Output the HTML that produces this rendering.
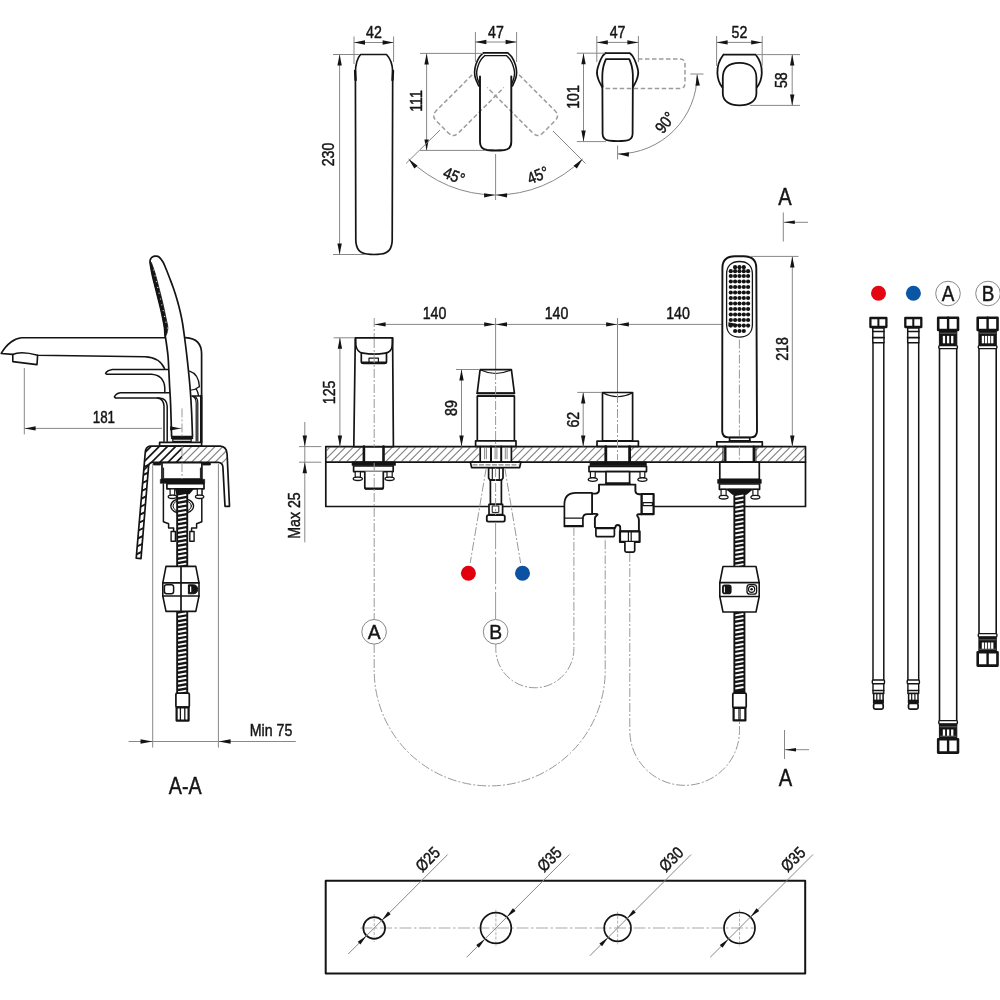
<!DOCTYPE html>
<html><head><meta charset="utf-8"><title>Drawing</title><style>
html,body{margin:0;padding:0;background:#fff;}
svg{display:block;font-family:"Liberation Sans",sans-serif;will-change:transform;}
text{fill:#141414;stroke:#141414;stroke-width:0.45px;}
.k{stroke:#141414;stroke-width:1.7;fill:none;stroke-linejoin:round;stroke-linecap:round;}
.kw{stroke:#141414;stroke-width:1.7;fill:#fff;stroke-linejoin:round;}
.kb{stroke:#141414;stroke-width:1.7;fill:#141414;stroke-linejoin:round;}
.g{stroke:#888;stroke-width:1;fill:none;}
.cl{stroke:#999;stroke-width:1;fill:none;stroke-dasharray:9 2 2 2;}
.hid{stroke:#9c9c9c;stroke-width:1.5;fill:none;stroke-dasharray:4.5 2.5;}
.hg{stroke:#858585;stroke-width:1.2;fill:none;}
</style></head><body>
<svg width="1000" height="1000" viewBox="0 0 1000 1000">
<rect width="1000" height="1000" fill="#fff"/>
<!-- sec_top -->
<path d="M360.5,54.5 L386.5,54.5 C390,58 392.5,64 392.7,72 L392.2,240 Q392,253 381,254 Q374,255 367,254 Q356,253 355.8,240 L355.4,72 C355.6,64 357.5,58 360.5,54.5 Z" class="k" />
<line x1="355.10" y1="71.00" x2="355.60" y2="80.00" class="k" style="stroke-width:2.4"/>
<line x1="393.00" y1="71.00" x2="392.50" y2="80.00" class="k" style="stroke-width:2.4"/>
<line x1="354.00" y1="36.50" x2="354.00" y2="64.00" class="g" />
<line x1="393.60" y1="36.50" x2="393.60" y2="62.00" class="g" />
<line x1="354.00" y1="42.50" x2="393.60" y2="42.50" class="g" />
<polygon points="354.00,42.50 365.00,40.30 365.00,44.70" fill="#141414"/>
<polygon points="393.60,42.50 382.60,44.70 382.60,40.30" fill="#141414"/>
<text transform="translate(374.00,37.50) rotate(0) scale(0.86,1)" font-size="16.5" text-anchor="middle" >42</text>
<line x1="333.00" y1="54.50" x2="360.00" y2="54.50" class="g" />
<line x1="333.00" y1="254.50" x2="366.00" y2="254.50" class="g" />
<line x1="339.60" y1="54.50" x2="339.60" y2="254.50" class="g" />
<polygon points="339.60,54.50 341.80,65.50 337.40,65.50" fill="#141414"/>
<polygon points="339.60,254.50 337.40,243.50 341.80,243.50" fill="#141414"/>
<text transform="translate(334.20,154.50) rotate(-90) scale(0.86,1)" font-size="16.5" text-anchor="middle" >230</text>
<g transform="translate(495.6,73.6) rotate(45)"><path d="M-15.7,17.5 L-15.7,68 Q-15.7,75.4 -8.7,75.4 L8.7,75.4 Q15.7,75.4 15.7,68 L15.7,4" class="hid"/></g>
<g transform="translate(495.6,73.6) rotate(-45)"><path d="M15.7,17.5 L15.7,68 Q15.7,75.4 8.7,75.4 L-8.7,75.4 Q-15.7,75.4 -15.7,68 L-15.7,4" class="hid"/></g>
<path d="M483.40,52.9 L507.8,52.9  C508.47,53.58 510.53,55.02 511.80,57.00 C513.07,58.98 514.60,62.30 515.40,64.80 C516.20,67.30 516.55,69.70 516.60,72.00 C516.65,74.30 516.40,76.27 515.70,78.60 C515.00,80.93 512.95,84.77 512.40,86.00 M483.40,52.90 C482.73,53.58 480.67,55.02 479.40,57.00 C478.13,58.98 476.60,62.30 475.80,64.80 C475.00,67.30 474.65,69.70 474.60,72.00 C474.55,74.30 474.80,76.27 475.50,78.60 C476.20,80.93 478.25,84.77 478.80,86.00" class="k" style="stroke-width:1.6"/>
<path d="M484.80,55.6 L506.4,55.6  C507.00,56.23 508.90,57.77 510.00,59.40 C511.10,61.03 512.25,63.30 513.00,65.40 C513.75,67.50 514.35,69.90 514.50,72.00 C514.65,74.10 514.38,75.93 513.90,78.00 C513.42,80.07 511.98,83.33 511.60,84.40 M484.80,55.60 C484.20,56.23 482.30,57.77 481.20,59.40 C480.10,61.03 478.95,63.30 478.20,65.40 C477.45,67.50 476.85,69.90 476.70,72.00 C476.55,74.10 476.82,75.93 477.30,78.00 C477.78,80.07 479.22,83.33 479.60,84.40" class="k" style="stroke-width:1.4"/>
<path d="M480,76.4 L480,142 Q480,149 487,150 Q495.6,151 504.4,150 Q511.3,149 511.3,142 L511.3,76.4" class="k" style="stroke-width:1.9"/>
<line x1="475.40" y1="32.00" x2="475.40" y2="62.00" class="g" />
<line x1="516.60" y1="32.00" x2="516.60" y2="62.00" class="g" />
<line x1="475.40" y1="42.00" x2="516.60" y2="42.00" class="g" />
<polygon points="475.40,42.00 486.40,39.80 486.40,44.20" fill="#141414"/>
<polygon points="516.60,42.00 505.60,44.20 505.60,39.80" fill="#141414"/>
<text transform="translate(496.00,37.50) rotate(0) scale(0.86,1)" font-size="16.5" text-anchor="middle" >47</text>
<line x1="420.00" y1="53.40" x2="483.00" y2="53.40" class="g" />
<line x1="420.00" y1="150.40" x2="486.00" y2="150.40" class="g" />
<line x1="426.60" y1="53.40" x2="426.60" y2="150.40" class="g" />
<polygon points="426.60,53.40 428.80,64.40 424.40,64.40" fill="#141414"/>
<polygon points="426.60,150.40 424.40,139.40 428.80,139.40" fill="#141414"/>
<text transform="translate(422.30,101.00) rotate(-90) scale(0.86,1)" font-size="16.5" text-anchor="middle" >111</text>
<path d="M408.63,158.97 A123,123 0 0 0 582.57,158.97" class="g" />
<line x1="495.60" y1="154.00" x2="495.60" y2="200.00" class="g" />
<line x1="440.00" y1="130.00" x2="406.00" y2="163.50" class="g" />
<line x1="553.00" y1="131.00" x2="585.50" y2="163.50" class="g" />
<polygon points="408.63,158.97 417.62,165.68 414.35,168.62" fill="#141414"/>
<polygon points="582.57,158.97 576.85,168.62 573.58,165.68" fill="#141414"/>
<polygon points="495.10,195.00 484.18,197.58 484.03,193.19" fill="#141414"/>
<polygon points="496.10,195.00 507.17,193.19 507.02,197.58" fill="#141414"/>
<text transform="translate(452.00,181.00) rotate(22) scale(0.86,1)" font-size="16.5" text-anchor="middle" >45°</text>
<text transform="translate(540.00,180.50) rotate(-22) scale(0.86,1)" font-size="16.5" text-anchor="middle" >45°</text>
<path d="M638,59 L680,59 Q685,59 685,64 L685,83 Q685,88.5 680,88.5 L607,88.5 Q602.5,88.5 602.5,83" class="hid" />
<path d="M605.30,53.2 L629.9,53.2  C630.38,53.73 631.80,54.77 632.80,56.40 C633.80,58.03 635.03,60.70 635.90,63.00 C636.77,65.30 637.65,68.20 638.00,70.20 C638.35,72.20 638.30,73.20 638.00,75.00 C637.70,76.80 637.05,78.97 636.20,81.00 C635.35,83.03 633.45,86.17 632.90,87.20 M605.30,53.20 C604.82,53.73 603.40,54.77 602.40,56.40 C601.40,58.03 600.17,60.70 599.30,63.00 C598.43,65.30 597.55,68.20 597.20,70.20 C596.85,72.20 596.90,73.20 597.20,75.00 C597.50,76.80 598.15,78.97 599.00,81.00 C599.85,83.03 601.75,86.17 602.30,87.20" class="k" style="stroke-width:1.8"/>
<path d="M605.90,59.1 L629.3,59.1  C629.70,60.25 631.12,63.55 631.70,66.00 C632.28,68.45 632.62,69.80 632.80,73.80 C632.98,77.80 632.80,87.30 632.80,90.00 L632.6,134 Q632.4,140 626,140.6 Q617.6,141.6 609.2,140.6 Q602.8,140 602.6,134 L602.40,90.00 C602.40,87.30 602.22,77.80 602.40,73.80 C602.58,69.80 602.92,68.45 603.50,66.00 C604.08,63.55 605.50,60.25 605.90,59.10" class="k" style="stroke-width:1.8"/>
<line x1="596.80" y1="36.00" x2="596.80" y2="62.00" class="g" />
<line x1="638.40" y1="36.00" x2="638.40" y2="62.00" class="g" />
<line x1="596.80" y1="42.40" x2="638.40" y2="42.40" class="g" />
<polygon points="596.80,42.40 607.80,40.20 607.80,44.60" fill="#141414"/>
<polygon points="638.40,42.40 627.40,44.60 627.40,40.20" fill="#141414"/>
<text transform="translate(617.60,37.50) rotate(0) scale(0.86,1)" font-size="16.5" text-anchor="middle" >47</text>
<line x1="576.80" y1="53.20" x2="605.00" y2="53.20" class="g" />
<line x1="576.80" y1="141.60" x2="606.00" y2="141.60" class="g" />
<line x1="583.50" y1="53.20" x2="583.50" y2="141.60" class="g" />
<polygon points="583.50,53.20 585.70,64.20 581.30,64.20" fill="#141414"/>
<polygon points="583.50,141.60 581.30,130.60 585.70,130.60" fill="#141414"/>
<text transform="translate(579.00,97.00) rotate(-90) scale(0.86,1)" font-size="16.5" text-anchor="middle" >101</text>
<path d="M697.10,74.4 A79.5,79.5 0 0 1 617.60,153.90" class="g" />
<line x1="690.40" y1="74.00" x2="703.50" y2="74.00" class="g" />
<line x1="617.60" y1="145.50" x2="617.60" y2="159.50" class="g" />
<polygon points="697.10,74.60 699.87,85.47 695.48,85.70" fill="#141414"/>
<polygon points="617.90,153.90 629.00,152.28 628.77,156.67" fill="#141414"/>
<text transform="translate(669.50,126.00) rotate(-52) scale(0.86,1)" font-size="16.5" text-anchor="middle" >90°</text>
<path d="M723.4,54.7 L755.8,54.7 C759.6,59.5 762,66 761.8,73 C761.6,79 760,83.5 756.8,87.4 M723.4,54.7 C719.6,59.5 717.2,66 717.4,73 C717.6,79 719.2,83.5 722.4,87.4" class="k" style="stroke-width:1.8"/>
<path d="M722.8,78 C722.8,68 729,62.9 739.5,62.9 C750,62.9 756.4,68 756.4,78 L756.4,93.5 C756.4,101 749.5,105.4 739.5,105.4 C729.5,105.4 722.8,101 722.8,93.5 Z" class="k" style="stroke-width:1.8"/>
<line x1="716.60" y1="36.00" x2="716.60" y2="66.00" class="g" />
<line x1="762.20" y1="36.00" x2="762.20" y2="66.00" class="g" />
<line x1="716.60" y1="42.40" x2="762.20" y2="42.40" class="g" />
<polygon points="716.60,42.40 727.60,40.20 727.60,44.60" fill="#141414"/>
<polygon points="762.20,42.40 751.20,44.60 751.20,40.20" fill="#141414"/>
<text transform="translate(739.40,37.50) rotate(0) scale(0.86,1)" font-size="16.5" text-anchor="middle" >52</text>
<line x1="756.00" y1="54.60" x2="800.00" y2="54.60" class="g" />
<line x1="750.00" y1="105.40" x2="800.00" y2="105.40" class="g" />
<line x1="792.20" y1="54.60" x2="792.20" y2="105.40" class="g" />
<polygon points="792.20,54.60 794.40,65.60 790.00,65.60" fill="#141414"/>
<polygon points="792.20,105.40 790.00,94.40 794.40,94.40" fill="#141414"/>
<text transform="translate(786.60,80.20) rotate(-90) scale(0.86,1)" font-size="16.5" text-anchor="middle" >58</text>
<text transform="translate(785.00,205.00) rotate(0) scale(0.84,1)" font-size="24" text-anchor="middle" >A</text>
<line x1="783.30" y1="212.50" x2="783.30" y2="241.50" class="g" />
<line x1="783.30" y1="222.30" x2="808.00" y2="222.30" class="g" />
<polygon points="783.80,222.30 794.80,220.60 794.80,224.00" fill="#141414"/>
<text transform="translate(785.50,785.50) rotate(0) scale(0.84,1)" font-size="24" text-anchor="middle" >A</text>
<line x1="784.50" y1="730.00" x2="784.50" y2="759.00" class="g" />
<line x1="784.50" y1="749.70" x2="809.00" y2="749.70" class="g" />
<polygon points="785.00,749.70 796.00,748.00 796.00,751.40" fill="#141414"/>
<!-- sec_front -->
<path d="M325.8,462.2 L325.8,506.5 L805.5,506.5 L805.5,462.2" class="k" />
<path d="M326.60,450.50L329.70,447.40M326.60,458.30L337.50,447.40M331.30,461.40L345.30,447.40M339.10,461.40L353.10,447.40M346.90,461.40L360.90,447.40M354.70,461.40L362.90,453.20M362.50,461.40L362.90,461.00" class="hg" />
<path d="M384.40,455.10L392.10,447.40M385.90,461.40L399.90,447.40M393.70,461.40L407.70,447.40M401.50,461.40L415.50,447.40M409.30,461.40L423.30,447.40M417.10,461.40L431.10,447.40M424.90,461.40L438.90,447.40M432.70,461.40L446.70,447.40M440.50,461.40L454.50,447.40M448.30,461.40L462.30,447.40M456.10,461.40L470.10,447.40M463.90,461.40L477.90,447.40M471.70,461.40L479.40,453.70" class="hg" />
<path d="M512.20,452.10L516.90,447.40M512.20,459.90L524.70,447.40M518.50,461.40L532.50,447.40M526.30,461.40L540.30,447.40M534.10,461.40L548.10,447.40M541.90,461.40L555.90,447.40M549.70,461.40L563.70,447.40M557.50,461.40L571.50,447.40M565.30,461.40L579.30,447.40M573.10,461.40L587.10,447.40M580.90,461.40L594.90,447.40M588.70,461.40L602.70,447.40M596.50,461.40L604.80,453.10M604.30,461.40L604.80,460.90" class="hg" />
<path d="M630.60,450.70L633.90,447.40M630.60,458.50L641.70,447.40M635.50,461.40L649.50,447.40M643.30,461.40L657.30,447.40M651.10,461.40L665.10,447.40M658.90,461.40L672.90,447.40M666.70,461.40L680.70,447.40M674.50,461.40L688.50,447.40M682.30,461.40L696.30,447.40M690.10,461.40L704.10,447.40M697.90,461.40L711.90,447.40M705.70,461.40L719.70,447.40M713.50,461.40L723.40,451.50M721.30,461.40L723.40,459.30" class="hg" />
<path d="M755.60,450.50L758.70,447.40M755.60,458.30L766.50,447.40M760.30,461.40L774.30,447.40M768.10,461.40L782.10,447.40M775.90,461.40L789.90,447.40M783.70,461.40L797.70,447.40M791.50,461.40L804.70,448.20M799.30,461.40L804.70,456.00" class="hg" />
<path d="M325.8,446.6 L805.5,446.6 L805.5,462.2 L325.8,462.2 Z" class="k" />
<line x1="374.20" y1="318.00" x2="374.20" y2="337.00" class="cl" />
<path d="M355.3,337.8 L392.6,337.8 L393.4,446.6 L353.8,446.6 Z" class="kw" />
<path d="M355.6,338 L355.8,345 C356.5,350 359,352.5 363,353.2 Q374.2,355.2 385.4,353.2 C389.5,352.5 392,350 392.3,345 L392.5,338" class="k" />
<path d="M361.3,353 L361.3,361.5 Q361.3,363.4 363.5,363.4 L384.3,363.4 Q386.5,363.4 386.5,361.5 L386.5,353" class="k" />
<line x1="362.00" y1="362.60" x2="386.00" y2="362.60" class="k" style="stroke-width:2.2"/>
<path d="M369,362 L369,358.2 L378.4,358.2 L378.4,362" class="k" style="stroke-width:1.2"/>
<line x1="374.20" y1="339.00" x2="374.20" y2="446.60" class="cl" />
<line x1="363.90" y1="446.60" x2="363.90" y2="462.20" class="k" style="stroke-width:2.6"/>
<line x1="383.50" y1="446.60" x2="383.50" y2="462.20" class="k" style="stroke-width:2.6"/>
<rect x="352.00" y="461.80" width="43.50" height="3.60" class="kb" style="stroke-width:0.6"/>
<rect x="353.60" y="466.00" width="39.60" height="5.60" class="kw" />
<rect x="355.20" y="471.60" width="5.20" height="5.80" class="kw" style="stroke-width:1.2"/>
<ellipse cx="357.8" cy="478.8" rx="4.6" ry="1.7" class="kw" style="stroke-width:1.3"/>
<rect x="387.00" y="471.60" width="5.20" height="5.80" class="kw" style="stroke-width:1.2"/>
<ellipse cx="389.6" cy="478.8" rx="4.6" ry="1.7" class="kw" style="stroke-width:1.3"/>
<path d="M364.8,471.6 L364.8,487 Q364.8,489 366.8,489 L381.3,489 Q383.3,489 383.3,487 L383.3,471.6" class="kw" />
<line x1="365.50" y1="488.60" x2="382.60" y2="488.60" class="k" style="stroke-width:2"/>
<line x1="374.20" y1="463.00" x2="374.20" y2="619.50" class="cl" />
<line x1="495.60" y1="318.00" x2="495.60" y2="369.00" class="g" />
<path d="M480.1,369.6 L511.4,369.6 L514.4,393.2 L477.2,393.2 Z" class="kw" style="stroke-width:1.7"/>
<path d="M480.6,370 Q495.6,377 511,370" class="k" style="stroke-width:1.2"/>
<line x1="477.20" y1="393.40" x2="514.40" y2="393.40" class="k" style="stroke-width:1.6"/>
<rect x="477.30" y="396.20" width="37.10" height="44.60" class="kw" style="stroke-width:1.7"/>
<line x1="477.60" y1="395.40" x2="514.20" y2="395.40" class="k" style="stroke-width:0.9"/>
<rect x="475.60" y="440.90" width="40.40" height="5.40" class="kw" />
<line x1="495.60" y1="371.00" x2="495.60" y2="446.60" class="cl" />
<line x1="480.20" y1="446.60" x2="480.20" y2="462.20" class="k" />
<line x1="511.40" y1="446.60" x2="511.40" y2="462.20" class="k" />
<line x1="491.00" y1="446.60" x2="491.00" y2="462.20" class="k" style="stroke-width:2"/>
<line x1="501.20" y1="446.60" x2="501.20" y2="462.20" class="k" style="stroke-width:2"/>
<line x1="484.60" y1="448.10" x2="484.60" y2="459.20" class="g" />
<line x1="486.40" y1="448.10" x2="486.40" y2="459.20" class="g" />
<line x1="495.10" y1="448.10" x2="495.10" y2="459.20" class="g" />
<line x1="496.90" y1="448.10" x2="496.90" y2="459.20" class="g" />
<line x1="505.30" y1="448.10" x2="505.30" y2="459.20" class="g" />
<line x1="507.10" y1="448.10" x2="507.10" y2="459.20" class="g" />
<path d="M470.4,462.2 L520.8,462.2 L519.6,467.6 L471.6,467.6 Z" class="kw" />
<line x1="472.50" y1="464.80" x2="518.50" y2="464.80" class="g" style="stroke-dasharray:5 1.5;stroke-width:1.2"/>
<path d="M488.6,467.8 L503,467.8 L503,478 L501.4,480.2 L490.2,480.2 L488.6,478 Z" class="kw" />
<line x1="492.30" y1="468.00" x2="492.30" y2="479.00" class="k" style="stroke-width:1.1"/>
<line x1="499.30" y1="468.00" x2="499.30" y2="479.00" class="k" style="stroke-width:1.1"/>
<rect x="490.40" y="480.20" width="11.00" height="24.20" class="kw" />
<rect x="489.00" y="504.40" width="13.60" height="10.20" class="kw" style="stroke-width:1.7"/>
<rect x="492.60" y="506.00" width="6.20" height="6.40" class="k" style="stroke-width:1"/>
<rect x="486.8" y="515.2" width="18" height="6.4" rx="1.6" class="kw" style="stroke-width:1.8"/>
<line x1="495.60" y1="468.00" x2="495.60" y2="515.00" class="cl" />
<line x1="495.60" y1="522.00" x2="495.60" y2="619.50" class="cl" style="stroke-dasharray:27 2.5 3 2.5"/>
<line x1="486.20" y1="468.00" x2="470.20" y2="563.00" class="cl" />
<line x1="504.80" y1="468.00" x2="520.60" y2="563.00" class="cl" />
<circle cx="468.4" cy="573.2" r="7.5" fill="#e2000f"/>
<circle cx="522.5" cy="573.2" r="7.5" fill="#0b52a3"/>
<line x1="617.50" y1="318.00" x2="617.50" y2="392.00" class="g" />
<rect x="602.50" y="392.50" width="30.10" height="48.30" class="kw" style="stroke-width:1.7"/>
<path d="M603,393 Q617.5,400.5 632.2,393" class="k" style="stroke-width:1.2"/>
<rect x="597.00" y="441.20" width="41.40" height="5.10" class="kw" />
<line x1="617.50" y1="394.00" x2="617.50" y2="460.20" class="cl" />
<line x1="605.80" y1="446.60" x2="605.80" y2="462.20" class="k" style="stroke-width:2.8"/>
<line x1="629.60" y1="446.60" x2="629.60" y2="462.20" class="k" style="stroke-width:2.8"/>
<rect x="590.00" y="461.80" width="56.40" height="4.00" class="kb" style="stroke-width:0.6"/>
<rect x="589.00" y="466.40" width="57.50" height="5.20" class="kw" />
<rect x="590.40" y="471.60" width="4.80" height="6.00" class="kw" style="stroke-width:1.2"/>
<ellipse cx="592.8" cy="479.6" rx="4.6" ry="1.8" class="kw" style="stroke-width:1.3"/>
<rect x="640.00" y="471.60" width="4.80" height="6.00" class="kw" style="stroke-width:1.2"/>
<ellipse cx="642.4" cy="479.6" rx="4.6" ry="1.8" class="kw" style="stroke-width:1.3"/>
<rect x="606.00" y="471.60" width="23.60" height="11.80" class="kw" />
<line x1="606.00" y1="483.60" x2="629.60" y2="483.60" class="k" style="stroke-width:2"/>
<path d="M599,484.6 L635.4,484.6 L635.4,491 Q635.6,494 639,494.2 L641.7,494.2 L641.7,514.2 L639,514.2 Q636.4,514.4 637.6,516.4 Q638.9,517.6 638.9,520 L638.9,531.4 L620.2,531.4 L620.2,527.6 Q620.2,525 617.8,525 Q615.4,525 615.2,527.9 L595.9,527.9 L594.9,527 L594.9,518.5 Q594.9,516.6 596.6,515.6 Q598.8,514 596,513.9 L592,513.9 L592,493.6 L595.4,493.6 Q598.8,493.4 599,490.5 Z" class="kw" style="stroke-width:1.9"/>
<rect x="641.70" y="494.00" width="11.90" height="20.20" class="kw" style="stroke-width:2.2"/>
<rect x="643.00" y="502.60" width="9.40" height="3.00" class="k" style="stroke-width:1.2"/>
<rect x="620.00" y="531.40" width="19.60" height="10.50" class="kw" style="stroke-width:2.2"/>
<line x1="628.40" y1="532.00" x2="628.40" y2="541.50" class="k" style="stroke-width:1.2"/>
<line x1="631.20" y1="532.00" x2="631.20" y2="541.50" class="k" style="stroke-width:1.2"/>
<path d="M624.9,541.9 L624.9,550.6 Q624.9,552.1 626.4,552.1 L633.2,552.1 Q634.7,552.1 634.7,550.6 L634.7,541.9" class="kw" style="stroke-width:1.7"/>
<path d="M595.9,527.9 L595.9,535 Q595.9,536.7 597.6,536.7 L612.7,536.7 Q614.4,536.7 614.4,535 L614.4,527.9" class="kw" style="stroke-width:1.7"/>
<line x1="596.50" y1="528.60" x2="614.00" y2="528.60" class="k" style="stroke-width:1.2"/>
<path d="M592,492.9 L576,492.9 Q564.4,492.9 564.4,504.5 L564.4,526.5 L582.9,526.5 L582.9,518.6 Q582.9,514.2 587.4,514.2 L592,514.2 Z" class="kw" style="stroke-width:1.7"/>
<line x1="564.40" y1="518.10" x2="582.90" y2="518.10" class="k" style="stroke-width:1.3"/>
<line x1="565.00" y1="526.00" x2="582.40" y2="526.00" class="k" style="stroke-width:2.2"/>
<circle cx="374.1" cy="631.8" r="12.3" class="g" style="fill:#fff"/>
<text transform="translate(374.10,639.20) rotate(0) scale(0.92,1)" font-size="21" text-anchor="middle" >A</text>
<path d="M374.2,644 L374.2,670.4 A115.5,115.5 0 0 0 605.2,670.4 L605.2,537.5" class="cl" />
<circle cx="495.6" cy="631.8" r="12.3" class="g" style="fill:#fff"/>
<text transform="translate(495.60,639.20) rotate(0) scale(0.92,1)" font-size="21" text-anchor="middle" >B</text>
<path d="M495.8,644 L495.8,648.7 A38.9,38.9 0 0 0 573.9,648.7 L573.9,527.5" class="cl" />
<path d="M629.8,553 L629.8,730.5 A54.85,54.85 0 0 0 739.5,730.5 L739.5,721.5" class="cl" />
<line x1="374.20" y1="324.40" x2="722.40" y2="324.40" class="g" />
<polygon points="374.60,324.40 385.60,322.20 385.60,326.60" fill="#141414"/>
<polygon points="495.20,324.40 484.20,326.60 484.20,322.20" fill="#141414"/>
<polygon points="496.00,324.40 507.00,322.20 507.00,326.60" fill="#141414"/>
<polygon points="617.10,324.40 606.10,326.60 606.10,322.20" fill="#141414"/>
<polygon points="617.90,324.40 628.90,322.20 628.90,326.60" fill="#141414"/>
<text transform="translate(434.50,318.80) rotate(0) scale(0.86,1)" font-size="16.5" text-anchor="middle" >140</text>
<text transform="translate(556.50,318.80) rotate(0) scale(0.86,1)" font-size="16.5" text-anchor="middle" >140</text>
<text transform="translate(678.00,318.80) rotate(0) scale(0.86,1)" font-size="16.5" text-anchor="middle" >140</text>
<path d="M722.4,268 C722.4,260 727,256.3 735,256.3 L743.6,256.3 C751.6,256.3 756.3,260 756.3,268 L757,431 Q757,437.4 750.6,437.4 L728.6,437.4 Q722.2,437.4 722.2,431 Z" class="kw" style="stroke-width:1.9"/>
<path d="M726.6,274 C726.6,266 731.5,261.5 739.5,261.5 C747.5,261.5 752.4,266 752.4,274 L752.4,324.6 C752.4,332.6 747.5,337.2 739.5,337.2 C731.5,337.2 726.6,332.6 726.6,324.6 Z" class="k" style="stroke-width:1.3"/>
<polygon points="739.40,324.40 728.40,326.60 728.40,322.20" fill="#141414"/>
<circle cx="730.8" cy="271.2" r="2.1" fill="#141414"/>
<circle cx="735.1" cy="271.2" r="2.1" fill="#141414"/>
<circle cx="739.45" cy="271.2" r="2.1" fill="#141414"/>
<circle cx="743.8" cy="271.2" r="2.1" fill="#141414"/>
<circle cx="748.1" cy="271.2" r="2.1" fill="#141414"/>
<circle cx="730.8" cy="276" r="2.1" fill="#141414"/>
<circle cx="735.1" cy="276" r="2.1" fill="#141414"/>
<circle cx="739.45" cy="276" r="2.1" fill="#141414"/>
<circle cx="743.8" cy="276" r="2.1" fill="#141414"/>
<circle cx="748.1" cy="276" r="2.1" fill="#141414"/>
<circle cx="730.8" cy="281.5" r="2.1" fill="#141414"/>
<circle cx="735.1" cy="281.5" r="2.1" fill="#141414"/>
<circle cx="739.45" cy="281.5" r="2.1" fill="#141414"/>
<circle cx="743.8" cy="281.5" r="2.1" fill="#141414"/>
<circle cx="748.1" cy="281.5" r="2.1" fill="#141414"/>
<circle cx="730.8" cy="287" r="2.1" fill="#141414"/>
<circle cx="735.1" cy="287" r="2.1" fill="#141414"/>
<circle cx="739.45" cy="287" r="2.1" fill="#141414"/>
<circle cx="743.8" cy="287" r="2.1" fill="#141414"/>
<circle cx="748.1" cy="287" r="2.1" fill="#141414"/>
<circle cx="730.8" cy="292.5" r="2.1" fill="#141414"/>
<circle cx="735.1" cy="292.5" r="2.1" fill="#141414"/>
<circle cx="739.45" cy="292.5" r="2.1" fill="#141414"/>
<circle cx="743.8" cy="292.5" r="2.1" fill="#141414"/>
<circle cx="748.1" cy="292.5" r="2.1" fill="#141414"/>
<circle cx="730.8" cy="298" r="2.1" fill="#141414"/>
<circle cx="735.1" cy="298" r="2.1" fill="#141414"/>
<circle cx="739.45" cy="298" r="2.1" fill="#141414"/>
<circle cx="743.8" cy="298" r="2.1" fill="#141414"/>
<circle cx="748.1" cy="298" r="2.1" fill="#141414"/>
<circle cx="730.8" cy="303.5" r="2.1" fill="#141414"/>
<circle cx="735.1" cy="303.5" r="2.1" fill="#141414"/>
<circle cx="739.45" cy="303.5" r="2.1" fill="#141414"/>
<circle cx="743.8" cy="303.5" r="2.1" fill="#141414"/>
<circle cx="748.1" cy="303.5" r="2.1" fill="#141414"/>
<circle cx="730.8" cy="309" r="2.1" fill="#141414"/>
<circle cx="735.1" cy="309" r="2.1" fill="#141414"/>
<circle cx="739.45" cy="309" r="2.1" fill="#141414"/>
<circle cx="743.8" cy="309" r="2.1" fill="#141414"/>
<circle cx="748.1" cy="309" r="2.1" fill="#141414"/>
<circle cx="730.8" cy="314.5" r="2.1" fill="#141414"/>
<circle cx="735.1" cy="314.5" r="2.1" fill="#141414"/>
<circle cx="739.45" cy="314.5" r="2.1" fill="#141414"/>
<circle cx="743.8" cy="314.5" r="2.1" fill="#141414"/>
<circle cx="748.1" cy="314.5" r="2.1" fill="#141414"/>
<circle cx="730.8" cy="320" r="2.1" fill="#141414"/>
<circle cx="735.1" cy="320" r="2.1" fill="#141414"/>
<circle cx="739.45" cy="320" r="2.1" fill="#141414"/>
<circle cx="743.8" cy="320" r="2.1" fill="#141414"/>
<circle cx="748.1" cy="320" r="2.1" fill="#141414"/>
<circle cx="730.8" cy="325.6" r="2.1" fill="#141414"/>
<circle cx="735.1" cy="325.6" r="2.1" fill="#141414"/>
<circle cx="739.45" cy="325.6" r="2.1" fill="#141414"/>
<circle cx="743.8" cy="325.6" r="2.1" fill="#141414"/>
<circle cx="748.1" cy="325.6" r="2.1" fill="#141414"/>
<circle cx="735.1" cy="267.2" r="2.1" fill="#141414"/>
<circle cx="735.1" cy="331" r="2.1" fill="#141414"/>
<circle cx="739.45" cy="267.2" r="2.1" fill="#141414"/>
<circle cx="739.45" cy="331" r="2.1" fill="#141414"/>
<circle cx="743.8" cy="267.2" r="2.1" fill="#141414"/>
<circle cx="743.8" cy="331" r="2.1" fill="#141414"/>
<line x1="739.40" y1="339.60" x2="739.40" y2="436.00" class="cl" />
<rect x="729.60" y="437.60" width="20.20" height="3.80" class="kw" />
<line x1="729.60" y1="441.00" x2="749.80" y2="441.00" class="k" style="stroke-width:2"/>
<rect x="716.80" y="441.80" width="45.50" height="4.60" class="kw" />
<line x1="739.40" y1="446.60" x2="739.40" y2="466.00" class="cl" />
<line x1="725.30" y1="446.60" x2="725.30" y2="462.20" class="k" style="stroke-width:2.4"/>
<line x1="753.80" y1="446.60" x2="753.80" y2="462.20" class="k" style="stroke-width:2.4"/>
<line x1="723.00" y1="446.60" x2="723.00" y2="462.20" class="k" style="stroke-width:1"/>
<line x1="755.90" y1="446.60" x2="755.90" y2="462.20" class="k" style="stroke-width:1"/>
<rect x="719.80" y="462.20" width="39.50" height="17.20" class="kw" />
<rect x="717.60" y="479.40" width="43.70" height="4.00" class="kb" style="stroke-width:0.6"/>
<rect x="719.40" y="484.00" width="40.20" height="5.30" class="kw" />
<rect x="721.10" y="489.30" width="5.00" height="6.30" class="kw" style="stroke-width:1.2"/>
<ellipse cx="723.6" cy="497.2" rx="4.5" ry="1.8" class="kw" style="stroke-width:1.3"/>
<rect x="752.90" y="489.30" width="5.00" height="6.30" class="kw" style="stroke-width:1.2"/>
<ellipse cx="755.4" cy="497.2" rx="4.5" ry="1.8" class="kw" style="stroke-width:1.3"/>
<path d="M727.8,489.5 L751.3,489.5 L746,494 L733,494 Z" class="kb" />
<rect x="733.40" y="493.50" width="12.0" height="73.00" fill="#141414"/>
<path d="M735.30,496.85L743.50,495.35M735.30,501.15L743.50,499.65M735.30,505.45L743.50,503.95M735.30,509.75L743.50,508.25M735.30,514.05L743.50,512.55M735.30,518.35L743.50,516.85M735.30,522.65L743.50,521.15M735.30,526.95L743.50,525.45M735.30,531.25L743.50,529.75M735.30,535.55L743.50,534.05M735.30,539.85L743.50,538.35M735.30,544.15L743.50,542.65M735.30,548.45L743.50,546.95M735.30,552.75L743.50,551.25M735.30,557.05L743.50,555.55M735.30,561.35L743.50,559.85M735.30,565.65L743.50,564.15" stroke="#fff" stroke-width="1.9" fill="none"/>
<rect x="733.40" y="612.00" width="12.0" height="81.00" fill="#141414"/>
<path d="M735.30,615.35L743.50,613.85M735.30,619.65L743.50,618.15M735.30,623.95L743.50,622.45M735.30,628.25L743.50,626.75M735.30,632.55L743.50,631.05M735.30,636.85L743.50,635.35M735.30,641.15L743.50,639.65M735.30,645.45L743.50,643.95M735.30,649.75L743.50,648.25M735.30,654.05L743.50,652.55M735.30,658.35L743.50,656.85M735.30,662.65L743.50,661.15M735.30,666.95L743.50,665.45M735.30,671.25L743.50,669.75M735.30,675.55L743.50,674.05M735.30,679.85L743.50,678.35M735.30,684.15L743.50,682.65M735.30,688.45L743.50,686.95" stroke="#fff" stroke-width="1.9" fill="none"/>
<path d="M723.0,566.5 L756.0,566.5 L759.2,582.6 L759.2,596.5 L756.0,612 L723.0,612 L719.8,596.5 L719.8,582.6 Z" class="kw" style="stroke-width:1.6"/>
<line x1="719.80" y1="582.60" x2="759.20" y2="582.60" class="k" />
<line x1="719.80" y1="596.50" x2="759.20" y2="596.50" class="k" />
<rect x="722" y="584.6" width="9.6" height="9.6" rx="2.8" fill="#141414"/>
<line x1="724.40" y1="587.00" x2="724.40" y2="592.00" class="k" style="stroke:#fff;stroke-width:1"/>
<rect x="747" y="584.6" width="9.6" height="9.6" rx="2.8" class="kw" style="stroke-width:1.3"/>
<circle cx="751.6" cy="589.2" r="3.1" class="kw" style="stroke-width:1.2"/>
<circle cx="751.6" cy="589.2" r="1.3" fill="#141414"/>
<rect x="732.8" y="693.2" width="13.4" height="14.4" rx="1.2" class="kw" style="stroke-width:1.7"/>
<rect x="733.60" y="707.80" width="11.80" height="12.60" class="kw" style="stroke-width:2.2"/>
<line x1="738.90" y1="708.00" x2="738.90" y2="720.00" class="k" style="stroke-width:1"/>
<line x1="740.10" y1="708.00" x2="740.10" y2="720.00" class="k" style="stroke-width:1"/>
<line x1="333.60" y1="337.80" x2="355.00" y2="337.80" class="g" />
<line x1="339.90" y1="337.80" x2="339.90" y2="446.60" class="g" />
<polygon points="339.90,337.80 342.10,348.80 337.70,348.80" fill="#141414"/>
<polygon points="339.90,446.60 337.70,435.60 342.10,435.60" fill="#141414"/>
<text transform="translate(335.30,392.40) rotate(-90) scale(0.86,1)" font-size="16.5" text-anchor="middle" >125</text>
<line x1="456.00" y1="369.50" x2="480.00" y2="369.50" class="g" />
<line x1="461.50" y1="369.50" x2="461.50" y2="446.60" class="g" />
<polygon points="461.50,369.50 463.70,380.50 459.30,380.50" fill="#141414"/>
<polygon points="461.50,446.60 459.30,435.60 463.70,435.60" fill="#141414"/>
<text transform="translate(457.00,408.00) rotate(-90) scale(0.86,1)" font-size="16.5" text-anchor="middle" >89</text>
<line x1="577.30" y1="392.40" x2="602.00" y2="392.40" class="g" />
<line x1="583.20" y1="392.40" x2="583.20" y2="446.60" class="g" />
<polygon points="583.20,392.40 585.40,403.40 581.00,403.40" fill="#141414"/>
<polygon points="583.20,446.60 581.00,435.60 585.40,435.60" fill="#141414"/>
<text transform="translate(578.80,419.70) rotate(-90) scale(0.86,1)" font-size="16.5" text-anchor="middle" >62</text>
<line x1="749.60" y1="256.40" x2="798.50" y2="256.40" class="g" />
<line x1="792.30" y1="256.40" x2="792.30" y2="446.60" class="g" />
<polygon points="792.30,256.40 794.50,267.40 790.10,267.40" fill="#141414"/>
<polygon points="792.30,446.60 790.10,435.60 794.50,435.60" fill="#141414"/>
<text transform="translate(788.00,349.00) rotate(-90) scale(0.86,1)" font-size="16.5" text-anchor="middle" >218</text>
<line x1="299.00" y1="446.60" x2="321.30" y2="446.60" class="g" />
<line x1="299.00" y1="462.20" x2="321.30" y2="462.20" class="g" />
<line x1="304.80" y1="422.00" x2="304.80" y2="542.30" class="g" />
<polygon points="304.80,446.60 302.60,435.60 307.00,435.60" fill="#141414"/>
<polygon points="304.80,462.20 307.00,473.20 302.60,473.20" fill="#141414"/>
<text transform="translate(299.80,515.50) rotate(-90) scale(0.86,1)" font-size="16.5" text-anchor="middle" >Max 25</text>
<!-- sec_side -->
<line x1="152.70" y1="464.00" x2="152.70" y2="747.60" class="g" />
<line x1="218.40" y1="464.00" x2="218.40" y2="747.60" class="g" />
<path d="M185.6,337.6 Q201.6,338.5 201.6,354 L201.6,442" class="k" style="stroke-width:1.7"/>
<line x1="201.20" y1="396.00" x2="201.20" y2="442.00" class="k" style="stroke-width:2.4"/>
<path d="M189.6,371.2 Q198.6,374 199.4,386.6" class="k" style="stroke-width:1.3"/>
<path d="M190.6,390 Q195,390.2 199.2,386.8" class="k" style="stroke-width:1.2"/>
<path d="M196.3,389.2 Q198,392 198.7,396 M191.8,396 L200.2,396" class="k" style="stroke-width:1.3"/>
<path d="M192.6,396.4 Q196,397.4 196.2,403 L196.2,441" class="k" style="stroke-width:1.2"/>
<path d="M194.6,396.6 Q197.8,398 197.8,403 L197.8,441" class="k" style="stroke-width:1.2"/>
<path d="M165.4,337.8 L21.5,337.8 C15,338.2 7,343.4 1.2,353.5 L12.4,354.4 C18,352 24,351.4 37.6,355.2 L144.8,356.8 Q160,357.5 164.6,368.8" class="k" style="stroke-width:1.6"/>
<path d="M12.8,354.6 L12.8,361.6 L37,364.6 L37.6,355.4" class="k" style="stroke-width:1.6"/>
<path d="M168.8,369.5 L112.4,369.5 Q107,370.4 105.6,373.4 L106.6,374.3 L151.2,374.3 Q164,375 164.8,388 L164.8,392.6" class="k" style="stroke-width:1.5"/>
<path d="M169.6,392.8 L120.4,392.8 Q115.8,393.6 114.4,396.9 L115.4,397.9 L159.5,397.9 Q166.8,398.4 167.2,406 L167.2,441.2" class="k" style="stroke-width:1.5"/>
<path d="M157.5,398 Q163.6,399 164,406 L164,441.2" class="k" style="stroke-width:1.5"/>
<path d="M155.50,256.00 C156.08,256.17 157.75,256.00 159.00,257.00 C160.25,258.00 161.75,259.83 163.00,262.00 C164.25,264.17 165.33,267.17 166.50,270.00 C167.67,272.83 168.92,276.17 170.00,279.00 C171.08,281.83 172.08,284.42 173.00,287.00 C173.92,289.58 174.67,291.83 175.50,294.50 C176.33,297.17 177.17,299.92 178.00,303.00 C178.83,306.08 179.75,309.67 180.50,313.00 C181.25,316.33 181.83,319.00 182.50,323.00 C183.17,327.00 183.85,332.17 184.50,337.00 C185.15,341.83 185.68,345.83 186.40,352.00 C187.12,358.17 188.13,367.33 188.80,374.00 C189.47,380.67 189.93,385.67 190.40,392.00 C190.87,398.33 191.25,404.57 191.60,412.00 C191.95,419.43 192.35,432.50 192.50,436.60 L171.60,436.60 C171.43,431.17 170.93,412.43 170.60,404.00 C170.27,395.57 169.88,391.33 169.60,386.00 C169.32,380.67 169.17,377.00 168.90,372.00 C168.63,367.00 168.55,361.67 168.00,356.00 C167.45,350.33 166.10,341.33 165.60,338.00 C165.10,334.67 165.18,337.67 165.00,336.00 C164.82,334.33 164.92,331.17 164.50,328.00 C164.08,324.83 163.25,320.67 162.50,317.00 C161.75,313.33 160.83,309.50 160.00,306.00 C159.17,302.50 158.33,299.33 157.50,296.00 C156.67,292.67 155.83,289.33 155.00,286.00 C154.17,282.67 153.23,279.33 152.50,276.00 C151.77,272.67 151.02,268.50 150.60,266.00 C150.18,263.50 149.93,262.27 150.00,261.00 C150.07,259.73 150.52,259.12 151.00,258.40 C151.48,257.68 152.15,257.10 152.90,256.70 C153.65,256.30 155.07,256.12 155.50,256.00 Z" class="kw" style="stroke-width:1.7"/>
<path d="M150.20,261.50 C150.28,262.25 150.30,263.58 150.70,266.00 C151.10,268.42 151.87,272.67 152.60,276.00 C153.33,279.33 154.27,282.67 155.10,286.00 C155.93,289.33 156.77,292.67 157.60,296.00 C158.43,299.33 159.27,302.50 160.10,306.00 C160.93,309.50 161.85,313.33 162.60,317.00 C163.35,320.67 164.17,324.73 164.60,328.00 C165.03,331.27 165.10,335.17 165.20,336.60 L165.60,336.40 C165.83,335.83 166.63,334.57 167.00,333.00 C167.37,331.43 167.97,329.50 167.80,327.00 C167.63,324.50 166.80,321.83 166.00,318.00 C165.20,314.17 164.17,309.00 163.00,304.00 C161.83,299.00 160.33,293.17 159.00,288.00 C157.67,282.83 156.25,277.17 155.00,273.00 C153.75,268.83 152.30,264.92 151.50,263.00 C150.70,261.08 150.42,261.75 150.20,261.50 Z" class="kb" style="stroke-width:0.8"/>
<circle cx="153.67" cy="270.00" r="0.6" fill="#e8e8e8"/>
<circle cx="155.03" cy="275.80" r="0.6" fill="#e8e8e8"/>
<circle cx="156.40" cy="281.60" r="0.6" fill="#e8e8e8"/>
<circle cx="157.76" cy="287.40" r="0.6" fill="#e8e8e8"/>
<circle cx="159.12" cy="293.20" r="0.6" fill="#e8e8e8"/>
<circle cx="160.48" cy="299.00" r="0.6" fill="#e8e8e8"/>
<circle cx="161.85" cy="304.80" r="0.6" fill="#e8e8e8"/>
<circle cx="163.21" cy="310.60" r="0.6" fill="#e8e8e8"/>
<circle cx="164.57" cy="316.40" r="0.6" fill="#e8e8e8"/>
<circle cx="165.94" cy="322.20" r="0.6" fill="#e8e8e8"/>
<circle cx="167.30" cy="328.00" r="0.6" fill="#e8e8e8"/>
<line x1="182.00" y1="408.40" x2="182.00" y2="446.00" class="cl" />
<line x1="172.00" y1="438.20" x2="192.20" y2="438.20" class="k" style="stroke-width:2.2"/>
<rect x="172.80" y="439.20" width="18.40" height="2.20" class="kw" style="stroke-width:1.2"/>
<rect x="159.60" y="442.30" width="42.00" height="3.70" class="kw" />
<line x1="24.30" y1="368.00" x2="24.30" y2="434.40" class="g" />
<line x1="24.30" y1="428.40" x2="162.00" y2="428.40" class="g" />
<line x1="170.00" y1="428.40" x2="181.50" y2="428.40" class="g" />
<polygon points="24.60,428.40 35.60,426.20 35.60,430.60" fill="#141414"/>
<polygon points="180.60,428.40 170.10,430.60 170.10,426.20" fill="#141414"/>
<text transform="translate(103.90,423.30) rotate(0) scale(0.81,1)" font-size="16.5" text-anchor="middle" >181</text>
<defs><clipPath id="rimL"><path d="M150,446.2 L182,446.2 L182,462.4 L152.9,462.4 Q149,462.6 148.6,466 L141,558.6 L136.2,558.2 L145.2,453 Q145.6,446.6 150,446.2 Z"/></clipPath><clipPath id="rimR"><path d="M182,446.2 L220.1,446.2 Q226.6,446.6 227.1,454 L227.6,464 L222.6,464 Q222,462.6 218,462.4 L182,462.4 Z"/></clipPath></defs>
<g clip-path="url(#rimL)"><path d="M81.5,475L116.5,440M89.7,475L124.7,440M97.9,475L132.9,440M106.1,475L141.1,440M114.3,475L149.3,440M122.5,475L157.5,440M130.7,475L165.7,440M138.9,475L173.9,440M147.1,475L182.1,440M155.3,475L190.3,440M163.5,475L198.5,440M171.7,475L206.7,440M179.9,475L214.9,440M188.1,475L223.1,440M196.3,475L231.3,440M204.5,475L239.5,440M212.7,475L247.7,440M220.9,475L255.9,440" stroke="#141414" stroke-width="1.7" fill="none"/>
<path d="M130,474.0L152,463.0M130,481.6L152,470.6M130,489.2L152,478.2M130,496.8L152,485.8M130,504.4L152,493.4M130,512.0L152,501.0M130,519.6L152,508.6M130,527.2L152,516.2M130,534.8L152,523.8M130,542.4L152,531.4M130,550.0L152,539.0M130,557.6L152,546.6M130,565.2L152,554.2M130,572.8L152,561.8M130,580.4L152,569.4" stroke="#141414" stroke-width="1.9" fill="none"/></g>
<g clip-path="url(#rimR)"><path d="M139.8,475L174.8,440M147.6,475L182.6,440M155.4,475L190.4,440M163.2,475L198.2,440M171.0,475L206.0,440M178.8,475L213.8,440M186.6,475L221.6,440M194.4,475L229.4,440M202.2,475L237.2,440M210.0,475L245.0,440M217.8,475L252.8,440M225.6,475L260.6,440M233.4,475L268.4,440M241.2,475L276.2,440" class="hg"/></g>
<path d="M150,446.2 L220.1,446.2 Q226.6,446.6 227.1,454 L229.5,506.3 L225,506.3 L222.9,467 Q222.6,462.6 218,462.4 L152.9,462.4 Q149,462.6 148.6,466 L141,558.6 L136.2,558.2 L145.2,453 Q145.6,446.6 150,446.2 Z" class="k" style="stroke-width:1.7"/>
<line x1="182.00" y1="446.00" x2="182.00" y2="489.00" class="cl" />
<rect x="153.60" y="463.00" width="7.00" height="2.00" class="kb" style="stroke-width:0.8"/>
<rect x="202.80" y="463.00" width="7.50" height="2.00" class="kb" style="stroke-width:0.8"/>
<rect x="162.00" y="462.60" width="39.90" height="16.60" class="kw" />
<line x1="182.00" y1="463.00" x2="182.00" y2="479.00" class="cl" />
<rect x="160.30" y="479.30" width="44.40" height="4.00" class="kb" style="stroke-width:0.6"/>
<line x1="163.60" y1="468.00" x2="163.60" y2="478.00" class="k" style="stroke-width:1"/>
<line x1="200.40" y1="468.00" x2="200.40" y2="478.00" class="k" style="stroke-width:1"/>
<path d="M163.4,484 L163.4,521.7 L168.6,523.8 L168.6,528 L173.6,528 L173.6,531.5 M201.8,484 L201.8,521.7 L196.6,523.8 L196.6,528 L191.6,528 L191.6,531.5" class="k" style="stroke-width:1.5"/>
<rect x="166.90" y="483.60" width="37.10" height="5.20" class="kw" />
<rect x="170.10" y="488.80" width="4.60" height="6.60" class="kw" style="stroke-width:1.2"/>
<ellipse cx="172.4" cy="496.8" rx="4.2" ry="1.7" class="kw" style="stroke-width:1.3"/>
<rect x="197.30" y="488.80" width="4.60" height="6.60" class="kw" style="stroke-width:1.2"/>
<ellipse cx="199.6" cy="496.8" rx="4.2" ry="1.7" class="kw" style="stroke-width:1.3"/>
<ellipse cx="182.2" cy="506" rx="11.4" ry="7.6" class="k" style="stroke-width:1.3"/>
<ellipse cx="182.2" cy="506" rx="9.2" ry="6" class="k" style="stroke-width:1"/>
<rect x="171.10" y="531.50" width="4.30" height="9.80" class="kw" style="stroke-width:1.4"/>
<rect x="189.80" y="531.50" width="4.30" height="9.80" class="kw" style="stroke-width:1.4"/>
<path d="M176,489 L192.8,489 L189,493.4 L177,493.4 Z" class="kb" />
<rect x="176.20" y="493.00" width="12.0" height="73.40" fill="#141414"/>
<path d="M178.10,496.35L186.30,494.85M178.10,500.65L186.30,499.15M178.10,504.95L186.30,503.45M178.10,509.25L186.30,507.75M178.10,513.55L186.30,512.05M178.10,517.85L186.30,516.35M178.10,522.15L186.30,520.65M178.10,526.45L186.30,524.95M178.10,530.75L186.30,529.25M178.10,535.05L186.30,533.55M178.10,539.35L186.30,537.85M178.10,543.65L186.30,542.15M178.10,547.95L186.30,546.45M178.10,552.25L186.30,550.75M178.10,556.55L186.30,555.05M178.10,560.85L186.30,559.35M178.10,565.15L186.30,563.65" stroke="#fff" stroke-width="1.9" fill="none"/>
<rect x="176.20" y="611.40" width="12.0" height="81.60" fill="#141414"/>
<path d="M178.10,614.75L186.30,613.25M178.10,619.05L186.30,617.55M178.10,623.35L186.30,621.85M178.10,627.65L186.30,626.15M178.10,631.95L186.30,630.45M178.10,636.25L186.30,634.75M178.10,640.55L186.30,639.05M178.10,644.85L186.30,643.35M178.10,649.15L186.30,647.65M178.10,653.45L186.30,651.95M178.10,657.75L186.30,656.25M178.10,662.05L186.30,660.55M178.10,666.35L186.30,664.85M178.10,670.65L186.30,669.15M178.10,674.95L186.30,673.45M178.10,679.25L186.30,677.75M178.10,683.55L186.30,682.05M178.10,687.85L186.30,686.35M178.10,692.15L186.30,690.65" stroke="#fff" stroke-width="1.9" fill="none"/>
<path d="M166,566.4 L195.8,566.4 L199,582.8 L199,596 L195.8,611.4 L166,611.4 L162.8,596 L162.8,582.8 Z" class="kw" style="stroke-width:1.6"/>
<line x1="162.80" y1="582.80" x2="199.00" y2="582.80" class="k" />
<line x1="162.80" y1="596.00" x2="199.00" y2="596.00" class="k" />
<line x1="181.00" y1="566.40" x2="181.00" y2="611.40" class="k" />
<rect x="164.4" y="584.8" width="9.2" height="9" rx="2.2" class="kw" style="stroke-width:1.5"/>
<path d="M188.4,584.8 L193.5,584.8 Q197.6,585 197.6,589.3 Q197.6,593.6 193.5,593.8 L188.4,593.8 Z" class="kb" style="stroke-width:1"/>
<line x1="190.60" y1="587.00" x2="190.60" y2="591.60" class="k" style="stroke:#fff;stroke-width:1.3"/>
<rect x="175.9" y="693.2" width="13.4" height="14" rx="1.2" class="kw" style="stroke-width:1.7"/>
<rect x="176.60" y="707.40" width="12.00" height="13.20" class="kw" style="stroke-width:2.2"/>
<line x1="180.40" y1="708.00" x2="180.40" y2="720.00" class="k" style="stroke-width:1.3"/>
<line x1="184.80" y1="708.00" x2="184.80" y2="720.00" class="k" style="stroke-width:1.3"/>
<line x1="128.60" y1="741.50" x2="295.80" y2="741.50" class="g" />
<polygon points="152.50,741.50 140.50,743.70 140.50,739.30" fill="#141414"/>
<polygon points="218.60,741.50 230.60,739.30 230.60,743.70" fill="#141414"/>
<text transform="translate(271.00,736.30) rotate(0) scale(0.86,1)" font-size="16.5" text-anchor="middle" >Min 75</text>
<text transform="translate(185.20,794.00) rotate(0) scale(0.84,1)" font-size="23.5" text-anchor="middle" >A-A</text>
<!-- sec_hoses -->
<circle cx="878.5" cy="293.3" r="7.5" fill="#e30613"/>
<circle cx="913.4" cy="293.3" r="7.5" fill="#0a56a4"/>
<circle cx="948" cy="293.5" r="12.3" class="g" style="fill:#fff"/>
<text transform="translate(948.00,301.20) rotate(0) scale(0.86,1)" font-size="22" text-anchor="middle" >A</text>
<circle cx="988" cy="293.5" r="12.3" class="g" style="fill:#fff"/>
<text transform="translate(988.00,301.20) rotate(0) scale(0.86,1)" font-size="22" text-anchor="middle" >B</text>
<line x1="873.00" y1="343.00" x2="873.00" y2="680.00" class="k" style="stroke-width:1.5"/>
<line x1="883.80" y1="343.00" x2="883.80" y2="680.00" class="k" style="stroke-width:1.5"/>
<rect x="870.40" y="318.00" width="16.00" height="9.00" class="kw" style="stroke-width:2.3"/>
<line x1="878.40" y1="318.00" x2="878.40" y2="327.00" class="k" style="stroke-width:2"/>
<rect x="872.80" y="328.00" width="11.20" height="14.80" class="kw" style="stroke-width:1.5"/>
<line x1="872.80" y1="331.60" x2="884.00" y2="331.60" class="k" style="stroke-width:1.5"/>
<line x1="872.80" y1="337.60" x2="884.00" y2="337.60" class="k" style="stroke-width:1.9"/>
<rect x="872.3" y="680" width="12.2" height="3.8" rx="1" class="kw" style="stroke-width:1.4"/>
<rect x="873.00" y="683.80" width="10.80" height="9.70" class="kw" style="stroke-width:1.4"/>
<line x1="873.00" y1="690.50" x2="883.80" y2="690.50" class="k" style="stroke-width:1.3"/>
<rect x="873.70" y="693.50" width="9.40" height="6.90" class="kw" style="stroke-width:1.5"/>
<line x1="876.80" y1="694.00" x2="876.80" y2="700.00" class="k" style="stroke-width:1.2"/>
<line x1="880.00" y1="694.00" x2="880.00" y2="700.00" class="k" style="stroke-width:1.2"/>
<rect x="873.40" y="700.40" width="10.00" height="2.80" class="kb" style="stroke-width:1"/>
<rect x="873.6" y="703.4" width="9.6" height="5.8" rx="1.6" class="kw" style="stroke-width:1.7"/>
<line x1="907.90" y1="343.00" x2="907.90" y2="680.00" class="k" style="stroke-width:1.5"/>
<line x1="918.70" y1="343.00" x2="918.70" y2="680.00" class="k" style="stroke-width:1.5"/>
<rect x="905.30" y="318.00" width="16.00" height="9.00" class="kw" style="stroke-width:2.3"/>
<line x1="913.30" y1="318.00" x2="913.30" y2="327.00" class="k" style="stroke-width:2"/>
<rect x="907.70" y="328.00" width="11.20" height="14.80" class="kw" style="stroke-width:1.5"/>
<line x1="907.70" y1="331.60" x2="918.90" y2="331.60" class="k" style="stroke-width:1.5"/>
<line x1="907.70" y1="337.60" x2="918.90" y2="337.60" class="k" style="stroke-width:1.9"/>
<rect x="907.1999999999999" y="680" width="12.2" height="3.8" rx="1" class="kw" style="stroke-width:1.4"/>
<rect x="907.90" y="683.80" width="10.80" height="9.70" class="kw" style="stroke-width:1.4"/>
<line x1="907.90" y1="690.50" x2="918.70" y2="690.50" class="k" style="stroke-width:1.3"/>
<rect x="908.60" y="693.50" width="9.40" height="6.90" class="kw" style="stroke-width:1.5"/>
<line x1="911.70" y1="694.00" x2="911.70" y2="700.00" class="k" style="stroke-width:1.2"/>
<line x1="914.90" y1="694.00" x2="914.90" y2="700.00" class="k" style="stroke-width:1.2"/>
<rect x="908.30" y="700.40" width="10.00" height="2.80" class="kb" style="stroke-width:1"/>
<rect x="908.5" y="703.4" width="9.6" height="5.8" rx="1.6" class="kw" style="stroke-width:1.7"/>
<line x1="939.50" y1="348.00" x2="939.50" y2="720.60" class="k" style="stroke-width:1.6"/>
<line x1="956.70" y1="348.00" x2="956.70" y2="720.60" class="k" style="stroke-width:1.6"/>
<rect x="938.20" y="317.80" width="19.80" height="12.20" class="kw" style="stroke-width:2.6"/>
<line x1="948.10" y1="317.80" x2="948.10" y2="330.00" class="k" style="stroke-width:2.4"/>
<rect x="939.40" y="330.60" width="17.40" height="15.40" class="kb" style="stroke-width:1"/>
<rect x="942.82" y="335.90" width="2.3" height="7.40" fill="#fff"/>
<rect x="946.95" y="335.90" width="2.3" height="7.40" fill="#fff"/>
<rect x="951.08" y="335.90" width="2.3" height="7.40" fill="#fff"/>
<line x1="940.20" y1="333.20" x2="956.00" y2="333.20" class="k" style="stroke:#777;stroke-width:0.8"/>
<rect x="938.8000000000001" y="345.6" width="18.6" height="3" rx="1" class="kw" style="stroke-width:1.4"/>
<rect x="938.8000000000001" y="720.6" width="18.6" height="3.4" rx="1" class="kw" style="stroke-width:1.4"/>
<rect x="939.40" y="724.20" width="17.40" height="14.40" class="kb" style="stroke-width:1"/>
<rect x="942.82" y="729.50" width="2.3" height="6.40" fill="#fff"/>
<rect x="946.95" y="729.50" width="2.3" height="6.40" fill="#fff"/>
<rect x="951.08" y="729.50" width="2.3" height="6.40" fill="#fff"/>
<line x1="940.20" y1="726.80" x2="956.00" y2="726.80" class="k" style="stroke:#777;stroke-width:0.8"/>
<line x1="940.20" y1="736.20" x2="956.00" y2="736.20" class="k" style="stroke:#777;stroke-width:0.8"/>
<rect x="938.20" y="739.20" width="19.80" height="13.40" class="kw" style="stroke-width:2.6"/>
<line x1="948.10" y1="739.20" x2="948.10" y2="752.60" class="k" style="stroke-width:2.4"/>
<line x1="979.00" y1="348.00" x2="979.00" y2="633.60" class="k" style="stroke-width:1.6"/>
<line x1="996.20" y1="348.00" x2="996.20" y2="633.60" class="k" style="stroke-width:1.6"/>
<rect x="977.70" y="317.80" width="19.80" height="12.20" class="kw" style="stroke-width:2.6"/>
<line x1="987.60" y1="317.80" x2="987.60" y2="330.00" class="k" style="stroke-width:2.4"/>
<rect x="978.90" y="330.60" width="17.40" height="15.40" class="kb" style="stroke-width:1"/>
<rect x="981.80" y="335.90" width="2.3" height="7.40" fill="#fff"/>
<rect x="984.90" y="335.90" width="2.3" height="7.40" fill="#fff"/>
<rect x="988.00" y="335.90" width="2.3" height="7.40" fill="#fff"/>
<rect x="991.10" y="335.90" width="2.3" height="7.40" fill="#fff"/>
<line x1="979.70" y1="333.20" x2="995.50" y2="333.20" class="k" style="stroke:#777;stroke-width:0.8"/>
<rect x="978.3000000000001" y="345.6" width="18.6" height="3" rx="1" class="kw" style="stroke-width:1.4"/>
<rect x="978.3000000000001" y="633.6" width="18.6" height="3.4" rx="1" class="kw" style="stroke-width:1.4"/>
<rect x="978.90" y="637.20" width="17.40" height="14.40" class="kb" style="stroke-width:1"/>
<rect x="981.80" y="642.50" width="2.3" height="6.40" fill="#fff"/>
<rect x="984.90" y="642.50" width="2.3" height="6.40" fill="#fff"/>
<rect x="988.00" y="642.50" width="2.3" height="6.40" fill="#fff"/>
<rect x="991.10" y="642.50" width="2.3" height="6.40" fill="#fff"/>
<line x1="979.70" y1="639.80" x2="995.50" y2="639.80" class="k" style="stroke:#777;stroke-width:0.8"/>
<line x1="979.70" y1="649.20" x2="995.50" y2="649.20" class="k" style="stroke:#777;stroke-width:0.8"/>
<rect x="977.70" y="652.20" width="19.80" height="13.40" class="kw" style="stroke-width:2.6"/>
<line x1="987.60" y1="652.20" x2="987.60" y2="665.60" class="k" style="stroke-width:2.4"/>
<!-- sec_plate -->
<rect x="325.70" y="880.70" width="479.50" height="92.80" class="k" style="stroke-width:2"/>
<line x1="360.50" y1="928.00" x2="754.00" y2="928.00" class="cl" style="stroke-dasharray:12 2.5 2.5 2.5;stroke:#aaa;stroke-width:1.2"/>
<line x1="374.20" y1="914.10" x2="374.20" y2="941.90" class="g" style="stroke-dasharray:3 1.5;stroke:#aaa;stroke-width:0.9"/>
<circle cx="374.2" cy="928" r="10.9" class="k" style="stroke-width:1.7"/>
<line x1="348.11" y1="954.09" x2="447.70" y2="854.50" class="g" />
<polygon points="381.91,920.29 387.99,911.52 390.68,914.21" fill="#141414"/>
<polygon points="366.49,935.71 360.41,944.48 357.72,941.79" fill="#141414"/>
<text transform="translate(431.70,863.20) rotate(-45) scale(0.86,1)" font-size="16.5" text-anchor="middle" >Ø25</text>
<line x1="495.90" y1="909.60" x2="495.90" y2="946.40" class="g" style="stroke-dasharray:3 1.5;stroke:#aaa;stroke-width:0.9"/>
<circle cx="495.9" cy="928" r="15.4" class="k" style="stroke-width:1.7"/>
<line x1="466.63" y1="957.27" x2="569.40" y2="854.50" class="g" />
<polygon points="506.79,917.11 512.87,908.34 515.56,911.03" fill="#141414"/>
<polygon points="485.01,938.89 478.93,947.66 476.24,944.97" fill="#141414"/>
<text transform="translate(553.40,863.20) rotate(-45) scale(0.86,1)" font-size="16.5" text-anchor="middle" >Ø35</text>
<line x1="617.60" y1="911.60" x2="617.60" y2="944.40" class="g" style="stroke-dasharray:3 1.5;stroke:#aaa;stroke-width:0.9"/>
<circle cx="617.6" cy="928" r="13.4" class="k" style="stroke-width:1.7"/>
<line x1="589.74" y1="955.86" x2="691.10" y2="854.50" class="g" />
<polygon points="627.08,918.52 633.16,909.76 635.84,912.44" fill="#141414"/>
<polygon points="608.12,937.48 602.04,946.24 599.36,943.56" fill="#141414"/>
<text transform="translate(675.10,863.20) rotate(-45) scale(0.86,1)" font-size="16.5" text-anchor="middle" >Ø30</text>
<line x1="739.50" y1="909.50" x2="739.50" y2="946.50" class="g" style="stroke-dasharray:3 1.5;stroke:#aaa;stroke-width:0.9"/>
<circle cx="739.5" cy="928" r="15.5" class="k" style="stroke-width:1.7"/>
<line x1="710.16" y1="957.34" x2="813.00" y2="854.50" class="g" />
<polygon points="750.46,917.04 756.54,908.27 759.23,910.96" fill="#141414"/>
<polygon points="728.54,938.96 722.46,947.73 719.77,945.04" fill="#141414"/>
<text transform="translate(797.00,863.20) rotate(-45) scale(0.86,1)" font-size="16.5" text-anchor="middle" >Ø35</text>
</svg>
</body></html>
